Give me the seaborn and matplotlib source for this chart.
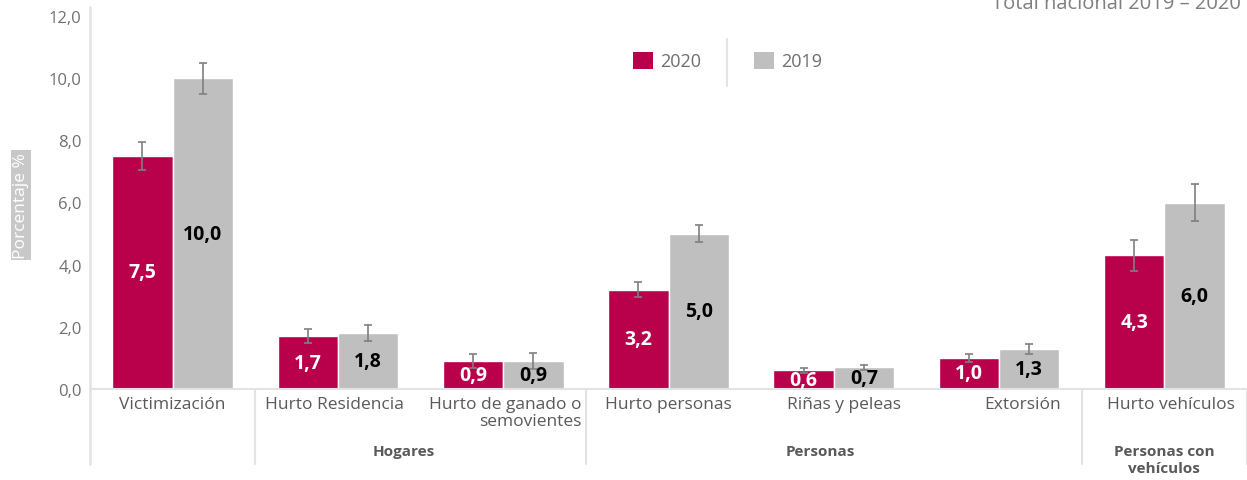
import matplotlib
matplotlib.use('Agg')
import matplotlib.pyplot as plt
import matplotlib.transforms as mtransforms
from matplotlib.patches import Patch
from matplotlib.lines import Line2D
from matplotlib.container import BarContainer
import seaborn as sns
import pandas as pd

# ---------------- data ----------------
categories = ["Victimización", "Hurto Residencia", "Hurto de ganado o\nsemovientes",
              "Hurto personas", "Riñas y peleas", "Extorsión", "Hurto vehículos"]
years = ["2020", "2019"]
values_2020 = [7.5, 1.7, 0.9, 3.2, 0.6, 1.0, 4.3]
values_2019 = [10.0, 1.8, 0.9, 5.0, 0.7, 1.3, 6.0]
err_2020 = [0.45, 0.22, 0.21, 0.24, 0.08, 0.13, 0.50]
err_2019 = [0.50, 0.25, 0.26, 0.28, 0.08, 0.16, 0.60]
groups = ["Hogares", "Personas", "Personas con\nvehículos"]
yticks = [0, 2, 4, 6, 8, 10, 12]
ytick_labels = ["0,0", "2,0", "4,0", "6,0", "8,0", "10,0", "12,0"]
title = "Total nacional 2019 – 2020"
ylabel = "Porcentaje %"

# ---------------- style ----------------
sns.set_theme(style="white")
plt.rcParams['font.family'] = ['Open Sans', 'DejaVu Sans']

RED = "#B8004B"
GREY = "#BFBFBF"
LINE = "#E3E3E3"
TXT = "#595959"

df = pd.DataFrame({
    "Categoría": categories * 2,
    "Año": [years[0]] * len(categories) + [years[1]] * len(categories),
    "Valor": values_2020 + values_2019,
})

W, H = 1247, 481
fig = plt.figure(figsize=(W / 100, H / 100), dpi=100)
ax = fig.add_axes([90 / W, 91 / H, (W - 90) / W, 373 / H])

sns.barplot(data=df, x="Categoría", y="Valor", hue="Año", hue_order=years,
            order=categories, palette=[RED, GREY], width=0.73, errorbar=None,
            saturation=1, ax=ax, legend=False)

ax.set_ylim(0, 12)
ax.set_xlim(-0.5, len(categories) - 0.5)
ax.set_yticks(yticks)
ax.set_yticklabels(ytick_labels, fontsize=12, color="#707070")
ax.tick_params(axis="y", length=0, pad=6)
ax.set_xticks([])
ax.set_xlabel("")
ax.set_ylabel("")
for s in ax.spines.values():
    s.set_visible(False)

# error bars and value labels
bar_conts = [c for c in ax.containers if isinstance(c, BarContainer)]
errs = [err_2020, err_2019]
vals = [values_2020, values_2019]
label_cols = ["white", "black"]
for k, cont in enumerate(bar_conts):
    for i, bar in enumerate(cont.patches):
        xc = bar.get_x() + bar.get_width() / 2
        h = bar.get_height()
        ax.errorbar(xc, h, yerr=errs[k][i], fmt="none", ecolor="#7F7F7F",
                    elinewidth=1.2, capsize=3, capthick=1.2, zorder=5)
        ax.text(xc, h / 2, f"{vals[k][i]:.1f}".replace(".", ","), ha="center",
                va="center", fontsize=14, fontweight="bold", color=label_cols[k],
                zorder=6)

trans = mtransforms.blended_transform_factory(ax.transData, ax.transAxes)

# baseline
ax.plot([-0.5, len(categories) - 0.5], [0, 0], transform=trans, color=LINE,
        lw=1.5, clip_on=False, zorder=1)
# y axis line (extended)
ax.plot([-0.5, -0.5], [-0.2, 1.025], transform=trans, color=LINE, lw=1.8,
        clip_on=False)
# group separators
for xs in [0.5, 2.5, 5.5, 6.5]:
    ax.plot([xs, xs], [0, -0.2], transform=trans, color=LINE, lw=1.5, clip_on=False)

# category labels
label_dx = [0.0, -0.02, 0.01, 0.0, 0.06, 0.14, 0.04]
for i, cat in enumerate(categories):
    ax.text(i + label_dx[i], -0.02, cat, transform=trans, ha="center", va="top",
            fontsize=12.5, color=TXT, multialignment="right", linespacing=1.02)

# group labels
group_x = [1.40, 3.92, 6.0]
for gx, g in zip(group_x, groups):
    ax.text(gx, -0.148, g, transform=trans, ha="center", va="top", fontsize=11,
            fontweight="bold", color=TXT, linespacing=1.25)

# legend
handles = [Patch(facecolor=RED, edgecolor="none"), Patch(facecolor=GREY, edgecolor="none")]
fig.legend(handles, years, loc="center", bbox_to_anchor=(727.5 / W, (H - 62) / H),
           ncol=2, frameon=False, fontsize=13, handlelength=1.1, handleheight=1.1,
           handletextpad=0.4, columnspacing=2.9, labelcolor="#6E6E6E")
fig.add_artist(Line2D([727 / W, 727 / W], [(H - 40) / H, (H - 87) / H],
                      color=LINE, lw=1.5))

# title (partly cut at top, as in the reference)
fig.text(1241 / W, (H - 9) / H, title, ha="right", va="baseline", fontsize=14.5,
         color="#7F7F7F")

# y label in a grey box
fig.text(21 / W, (H - 206) / H, ylabel, rotation=90, ha="center", va="center",
         fontsize=12.5, color="white",
         bbox=dict(boxstyle="square,pad=0.12", facecolor="#C8C8C8", edgecolor="none"))

fig.savefig("out.png", dpi=100)
